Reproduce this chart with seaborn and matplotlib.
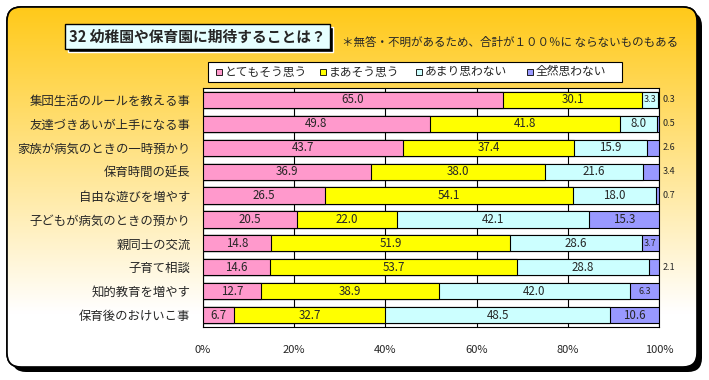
import numpy as np
import pandas as pd
import seaborn as sns
import matplotlib.pyplot as plt
from matplotlib.patches import FancyBboxPatch, Rectangle

sns.set_theme(style="white")
plt.rcParams['font.family'] = ['Noto Sans CJK JP', 'DejaVu Sans']

# data
categories = ["集団生活のルールを教える事", "友達づきあいが上手になる事", "家族が病気のときの一時預かり",
              "保育時間の延長", "自由な遊びを増やす", "子どもが病気のときの預かり",
              "親同士の交流", "子育て相談", "知的教育を増やす", "保育後のおけいこ事"]
series = ["とてもそう思う", "まあそう思う", "あまり思わない", "全然思わない"]
very = [65.0, 49.8, 43.7, 36.9, 26.5, 20.5, 14.8, 14.6, 12.7, 6.7]
somewhat = [30.1, 41.8, 37.4, 38.0, 54.1, 22.0, 51.9, 53.7, 38.9, 32.7]
not_much = [3.3, 8.0, 15.9, 21.6, 18.0, 42.1, 28.6, 28.8, 42.0, 48.5]
not_at_all = [0.3, 0.5, 2.6, 3.4, 0.7, 15.3, 3.7, 2.1, 6.3, 10.6]
colors = ["#FF99CC", "#FFFF00", "#CCFFFF", "#9999FF"]
title = "32 幼稚園や保育園に期待することは？"
note = "＊無答・不明があるため、合計が１００％に ならないものもある"

df = pd.DataFrame({"cat": categories, series[0]: very, series[1]: somewhat,
                   series[2]: not_much, series[3]: not_at_all})
vals = df[series].to_numpy()
# Excel-style 100% stacked: each row normalised to its own total
pct = vals / vals.sum(axis=1, keepdims=True) * 100
cum = np.cumsum(pct, axis=1)

fig = plt.figure(figsize=(7.09, 3.80), dpi=100)
W, H = 709, 380

# background frame with gradient
bg = fig.add_axes([0, 0, 1, 1])
bg.set_xlim(0, W)
bg.set_ylim(H, 0)
bg.axis("off")
box = dict(boxstyle="round,pad=0,rounding_size=14")
bg.add_patch(FancyBboxPatch((12, 12), 690, 360, fc="black", ec="black", lw=0, **box))
frame = FancyBboxPatch((7, 7), 690, 360, fc="white", ec="black", lw=1.2, **box)
bg.add_patch(frame)
t = np.clip(np.linspace(0, 1, 200) / 0.85, 0, 1)[:, None]
top = np.array([1.0, 0.79, 0.10])
grad = top[None, None, :] * (1 - t[:, :, None]) + np.ones(3)[None, None, :] * t[:, :, None]
grad = np.repeat(grad, 2, axis=1)
im = bg.imshow(grad, extent=[7, 697, 367, 7], aspect="auto", zorder=2)
im.set_clip_path(frame)
bg.add_patch(FancyBboxPatch((7, 7), 690, 360, fc="none", ec="black", lw=1.2, zorder=3, **box))

# title box
bg.add_patch(Rectangle((68, 27), 265, 25, fc="black", zorder=4))
bg.add_patch(Rectangle((65, 24), 265, 25, fc="#E6FFFF", ec="black", lw=1, zorder=5))
bg.text(69, 36.5, title, fontsize=10.6, fontweight="bold", va="center", ha="left", zorder=6)
bg.text(342, 42, note, fontsize=8.3, va="center", ha="left", zorder=6)

# legend box
bg.add_patch(Rectangle((208, 62), 414, 20, fc="white", ec="black", lw=0.8, zorder=5))
lx = [216, 320, 416, 527]
for x0, c, s in zip(lx, colors, series):
    bg.add_patch(Rectangle((x0, 69), 6, 6, fc=c, ec="black", lw=0.6, zorder=6))
    bg.text(x0 + 9, 72, s, fontsize=8.5, va="center", ha="left", zorder=6)

# plot area
ax = fig.add_axes([203 / W, 1 - 327 / H, 456 / W, 239 / H])
ax.set_facecolor("white")
for j in range(3, -1, -1):
    sns.barplot(x=cum[:, j], y=df["cat"], color=colors[j], orient="h", width=0.68,
                edgecolor="black", linewidth=0.8, saturation=1, ax=ax, zorder=3)

ax.set_xlim(0, 100)
ax.set_ylim(9.5, -0.5)
ax.set_xticks([0, 20, 40, 60, 80, 100])
ax.set_xticklabels([f"{v}%" for v in range(0, 101, 20)], fontsize=8)
ax.tick_params(axis="x", length=0, pad=13)
ax.set_yticks(range(10))
ax.set_yticklabels(categories, fontsize=8.9)
ax.tick_params(axis="y", length=0, pad=9)
ax.set_yticks(np.arange(-0.5, 10, 1), minor=True)
ax.tick_params(axis="y", which="minor", direction="in", length=4, width=0.8, color="black")
ax.set_xlabel("")
ax.set_ylabel("")
ax.grid(axis="x", color="black", lw=0.8, zorder=0)
ax.set_axisbelow(True)
for sp in ax.spines.values():
    sp.set_color("black")
    sp.set_linewidth(0.8)

# labels
outside = {0, 1, 2, 3, 4, 7}
small = {(0, 2), (6, 3), (8, 3)}
for i in range(len(categories)):
    for j in range(4):
        start = cum[i, j - 1] if j > 0 else 0
        mid = (start + cum[i, j]) / 2
        txt = f"{vals[i, j]:.1f}"
        if j == 3 and i in outside:
            ax.text(100.8, i, txt, fontsize=6.5, va="center", ha="left", clip_on=False)
        else:
            fs = 6.5 if (i, j) in small else 8.3
            ax.text(mid, i, txt, fontsize=fs, va="center", ha="center", zorder=5)

fig.savefig("out.png", dpi=100)
